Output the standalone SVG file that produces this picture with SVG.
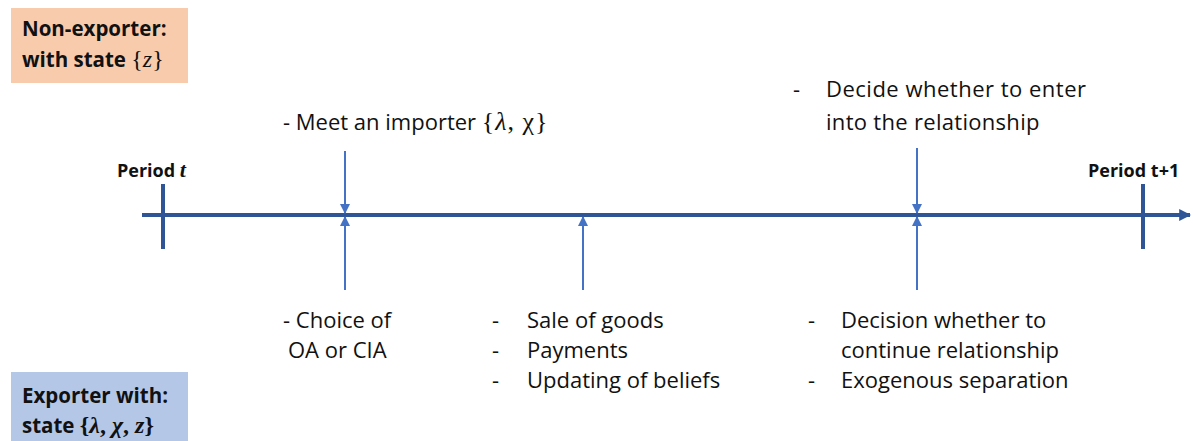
<svg xmlns="http://www.w3.org/2000/svg" width="1193" height="441" viewBox="0 0 1193 441">
  <style>
    .lbl { font-family: "Open Sans", "Liberation Sans", sans-serif; font-size: 22px; fill: #111; }
    .bold { font-family: "Open Sans", "Liberation Sans", sans-serif; font-weight: bold; fill: #111; }
    .brace { font-family: "Liberation Serif", serif; font-style: normal; }
    .var { font-family: "Liberation Serif", serif; font-style: italic; }
    .axis { stroke: #2F5597; stroke-width: 4; fill: none; }
    .tick { stroke: #2F5597; stroke-width: 4; }
    .ev { stroke: #4472C4; stroke-width: 2; fill: none; }
  </style>
  <defs>
    <marker id="ah" viewBox="0 0 10 10" refX="9" refY="5" markerWidth="5" markerHeight="5" orient="auto">
      <path d="M0,0 L10,5 L0,10 z" fill="#4472C4"/>
    </marker>
    <marker id="axh" viewBox="0 0 10 10" refX="9" refY="5" markerWidth="3" markerHeight="3" orient="auto">
      <path d="M0,0 L10,5 L0,10 z" fill="#2F5597"/>
    </marker>
  </defs>

  <!-- state boxes -->
  <g id="nonexporter">
    <rect x="11" y="8" width="177" height="75" fill="#F8CBAD"/>
    <text class="bold" x="22" y="36" font-size="20.5">Non-exporter:</text>
    <text class="bold" x="22" y="67" font-size="20.5">with state <tspan class="brace" font-weight="normal" font-size="24">{<tspan class="var">z</tspan>}</tspan></text>
  </g>
  <g id="exporter">
    <rect x="11" y="372" width="177" height="69" fill="#B4C7E7"/>
    <text class="bold" x="22" y="403" font-size="20.5">Exporter with:</text>
    <text class="bold" x="22" y="433" font-size="20.5">state <tspan class="brace" font-size="24">{<tspan class="var">λ</tspan>, <tspan class="var">χ</tspan>, <tspan class="var">z</tspan>}</tspan></text>
  </g>

  <!-- period labels -->
  <g id="period-t">
    <text class="bold" x="117" y="177" font-size="18">Period <tspan class="var" font-size="22">t</tspan></text>
  </g>
  <g id="period-t1">
    <text class="bold" x="1088" y="177" font-size="18">Period t+1</text>
  </g>

  <!-- event labels -->
  <g id="meet">
    <text class="lbl" x="283" y="130" font-size="23">- Meet an importer <tspan class="brace" font-size="26" letter-spacing="1">{<tspan class="var">λ</tspan>, χ}</tspan></text>
  </g>
  <g id="enter">
    <text class="lbl" x="793" y="97">-</text>
    <text class="lbl" x="826" y="97" letter-spacing="0.5">Decide whether to enter</text>
    <text class="lbl" x="826" y="130" letter-spacing="0.3">into the relationship</text>
  </g>
  <g id="choice">
    <text class="lbl" x="283" y="328">- Choice of</text>
    <text class="lbl" x="288" y="358">OA or CIA</text>
  </g>
  <g id="sale">
    <text class="lbl" x="492" y="328">-</text>
    <text class="lbl" x="527" y="328">Sale of goods</text>
    <text class="lbl" x="492" y="358">-</text>
    <text class="lbl" x="527" y="358">Payments</text>
    <text class="lbl" x="492" y="388">-</text>
    <text class="lbl" x="527" y="388">Updating of beliefs</text>
  </g>
  <g id="decision">
    <text class="lbl" x="808" y="328">-</text>
    <text class="lbl" x="841" y="328">Decision whether to</text>
    <text class="lbl" x="841" y="358">continue relationship</text>
    <text class="lbl" x="808" y="388">-</text>
    <text class="lbl" x="841" y="388">Exogenous separation</text>
  </g>

  <!-- timeline and event arrows -->
  <g id="connectors">
    <line class="axis" x1="142" y1="215" x2="1190" y2="215" marker-end="url(#axh)"/>
    <line class="tick" x1="163" y1="184" x2="163" y2="249"/>
    <line class="tick" x1="1143" y1="184" x2="1143" y2="249"/>
    <line class="ev" x1="345" y1="151" x2="345" y2="213" marker-end="url(#ah)"/>
    <line class="ev" x1="345" y1="290" x2="345" y2="217" marker-end="url(#ah)"/>
    <line class="ev" x1="583" y1="290" x2="583" y2="217" marker-end="url(#ah)"/>
    <line class="ev" x1="917" y1="148" x2="917" y2="213" marker-end="url(#ah)"/>
    <line class="ev" x1="917" y1="290" x2="917" y2="217" marker-end="url(#ah)"/>
  </g>
</svg>
